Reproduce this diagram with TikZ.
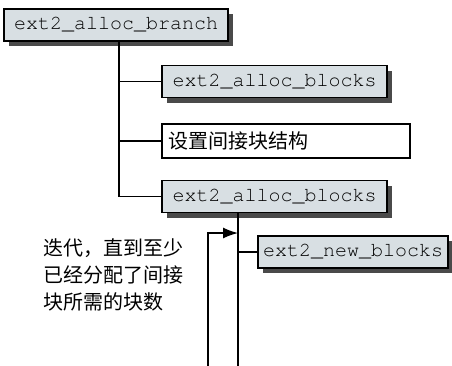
\documentclass[tikz,border=0pt]{standalone}
\usepackage{fontspec}
\setmonofont{TeX Gyre Cursor}
\newfontfamily\cjk{Noto Sans CJK SC}
\usepackage{xcolor}
\usepackage{tikz}
\usetikzlibrary{arrows.meta, positioning, calc, shadows}
\definecolor{fnfill}{HTML}{D8DFE3}
\definecolor{fnshadow}{HTML}{4A4A4A}

\begin{document}
\begin{tikzpicture}[
    x=1pt, y=-1pt,
    line width=1.4pt,
    fn/.style={rectangle, draw=black, fill=fnfill, minimum height=32pt, inner sep=0pt,
        font=\fontsize{20}{22}\selectfont\ttfamily,
        drop shadow={shadow xshift=5pt, shadow yshift=-5pt, fill=fnshadow, opacity=1}},
    stepbox/.style={rectangle, draw=black, fill=white, minimum height=34pt, inner sep=0pt,
        text width=#1, align=left, font=\fontsize{20}{22}\selectfont\cjk},
    note/.style={align=left, inner sep=0pt, font=\fontsize{20}{27}\selectfont\cjk}
]
\useasboundingbox (0,0) rectangle (452,365);

\node[fn, minimum width=224pt] (branch) at (116,25) {ext2\_alloc\_branch};
\node[fn, minimum width=225pt] (blocksA) at (274.5,81.5) {ext2\_alloc\_blocks};
\node[stepbox=236pt, minimum width=248pt] (setup) at (286,141) {设置间接块结构};
\node[fn, minimum width=225pt] (blocksB) at (274.5,196.5) {ext2\_alloc\_blocks};
\node[fn, minimum width=190pt] (newblk) at (353,252) {ext2\_new\_blocks};

\node[note, anchor=north west] (loopnote) at (43,238) {迭代，直到至少\\已经分配了间接\\块所需的块数};

% call tree
\coordinate (trunk) at ([xshift=3pt]branch.south);
\draw (trunk) |- (blocksA.west);
\draw (trunk) |- (setup.west);
\draw (trunk) |- (blocksB.west);

\coordinate (subtrunk) at ([xshift=-36.5pt]blocksB.south);
\coordinate (subend) at (subtrunk |- 0,366);
\draw (subtrunk) -- (subend);
\draw (newblk.west) -- (newblk.west -| subtrunk);

% loop back
\coordinate (loopin) at (238,233);
\coordinate (loopbot) at (208,366);
\draw[-{Latex[length=15pt, width=11pt]}] (loopbot) |- (loopin);
\end{tikzpicture}
\end{document}
